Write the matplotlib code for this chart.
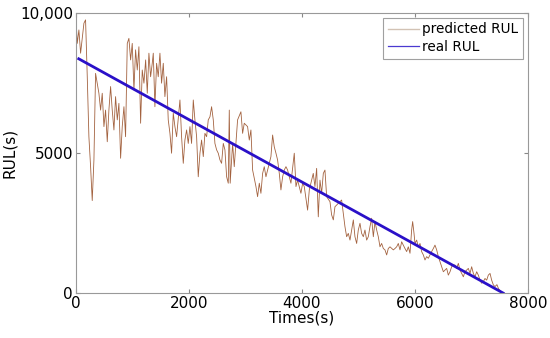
import matplotlib
matplotlib.use('Agg')
import matplotlib.pyplot as plt
from matplotlib.lines import Line2D

# predicted RUL (time in s, RUL in s)
pred_time = [0, 24, 53, 83, 142, 171, 201, 230, 260, 289, 319, 348, 378, 407,
             437, 466, 496, 525, 555, 584, 614, 643, 673, 702, 732, 761, 791,
             820, 850, 879, 909, 938, 968, 997, 1027, 1056, 1086, 1115, 1145,
             1174, 1204, 1234, 1263, 1292, 1322, 1351, 1369, 1398, 1428, 1457,
             1487, 1516, 1546, 1575, 1605, 1634, 1664, 1693, 1723, 1752, 1782,
             1841, 1870, 1900, 1929, 1959, 1988, 2018, 2047, 2077, 2106, 2136,
             2165, 2195, 2224, 2254, 2283, 2313, 2342, 2372, 2401, 2431, 2460,
             2490, 2519, 2549, 2578, 2608, 2637, 2667, 2696, 2714, 2730, 2773,
             2802, 2861, 2920, 2950, 2979, 3038, 3068, 3097, 3127, 3186, 3215,
             3245, 3274, 3304, 3333, 3363, 3392, 3451, 3481, 3510, 3540, 3569,
             3599, 3628, 3658, 3687, 3717, 3746, 3805, 3864, 3894, 3923, 3982,
             4012, 4041, 4100, 4130, 4159, 4200, 4230, 4260, 4289, 4319, 4348,
             4378, 4407, 4437, 4496, 4525, 4555, 4584, 4643, 4702, 4732, 4761,
             4791, 4820, 4850, 4879, 4909, 4938, 4968, 4997, 5027, 5056, 5086,
             5115, 5145, 5174, 5204, 5233, 5263, 5292, 5322, 5351, 5381, 5410,
             5440, 5469, 5499, 5528, 5558, 5617, 5646, 5676, 5705, 5735, 5764,
             5823, 5853, 5882, 5912, 5941, 5959, 5983, 6000, 6030, 6059, 6089,
             6118, 6148, 6177, 6207, 6236, 6295, 6325, 6354, 6384, 6413, 6472,
             6502, 6531, 6561, 6590, 6620, 6649, 6679, 6708, 6738, 6767, 6797,
             6826, 6856, 6885, 6915, 6944, 6974, 7003, 7033, 7062, 7092, 7121,
             7151, 7180, 7210, 7239, 7269, 7298, 7328, 7357, 7387, 7416, 7450,
             7480, 7510, 7540]
pred_rul = [9860, 8910, 9390, 8560, 9630, 9750, 7720, 5580, 4510, 3300, 4750,
            7840, 7490, 7130, 6530, 7130, 5940, 6530, 5400, 6530, 7370, 6530,
            5820, 7010, 6180, 6770, 4810, 5940, 6650, 5580, 8910, 9090, 8320,
            8910, 7250, 8680, 7960, 8790, 6060, 7960, 7490, 8320, 7130, 8560,
            7720, 8200, 8560, 6650, 8200, 7720, 8560, 7490, 8200, 7010, 7720,
            6180, 5700, 4990, 6420, 5940, 5580, 6890, 5580, 4630, 5460, 5820,
            5340, 5940, 5340, 6890, 6180, 5580, 4150, 4990, 5460, 4870, 5700,
            5580, 6180, 6290, 6650, 6180, 5340, 5110, 4990, 4750, 4630, 5340,
            5110, 4150, 3920, 6530, 3920, 5340, 4510, 6180, 6470, 5700, 6060,
            5940, 5460, 5820, 4390, 3800, 3440, 3920, 3560, 4270, 4510, 4150,
            4390, 4870, 5640, 5220, 4990, 4750, 4270, 3680, 4150, 4390, 4510,
            4390, 3920, 4990, 3800, 4030, 3560, 3920, 3800, 2960, 3680, 3920,
            4270, 3800, 4450, 2720, 4030, 3560, 4270, 4390, 3440, 3260, 2790,
            2610, 3080, 3200, 3320, 2850, 2370, 2010, 2130, 1890, 2250, 2610,
            2010, 1770, 2250, 2490, 2130, 2010, 2250, 1890, 2010, 2370, 2670,
            2010, 2550, 2250, 2010, 1650, 1770, 1590, 1540, 1360, 1590, 1650,
            1540, 1590, 1650, 1770, 1540, 1830, 1590, 1480, 1650, 1420, 2250,
            2550, 2130, 1770, 1890, 1650, 1770, 1480, 1360, 1180, 1300, 1240,
            1480, 1590, 1710, 1540, 1300, 940, 760, 820, 880, 640, 760, 940,
            1000, 1000, 880, 1060, 820, 700, 580, 760, 820, 880, 700, 940, 700,
            580, 760, 640, 460, 350, 410, 520, 460, 640, 700, 460, 290, 230,
            300, 150, 80, 0]

# real RUL: straight line
real_time = [50, 7560]
real_rul = [8360, 0]

plt.figure(figsize=(5.5, 3.38), dpi=100)
ax = plt.gca()
ax.set_position([0.138, 0.133, 0.822, 0.829])
ax.plot(pred_time, pred_rul, color='#a3623f', linewidth=0.6)
ax.plot(real_time, real_rul, color='#2a10c8', linewidth=2.0)
ax.set_xlim(0, 8000)
ax.set_ylim(0, 10000)
ax.set_xticks([0, 2000, 4000, 6000, 8000])
ax.set_yticks([0, 5000, 10000])
ax.set_yticklabels(['0', '5000', '10,000'])
ax.tick_params(direction='in', length=3, top=True, right=True,
               labelsize=11, color='#888888', pad=2)
for sp in ax.spines.values():
    sp.set_color('#999999')
    sp.set_linewidth(0.8)
plt.xlabel("Times(s)", fontsize=11, labelpad=0)
plt.ylabel("RUL(s)", fontsize=11, labelpad=2)
# legend samples are drawn thin in the original
handles = [Line2D([], [], color='#d2c2b4', linewidth=1.0),
           Line2D([], [], color='#4a3ad0', linewidth=0.9)]
leg = ax.legend(handles, ['predicted RUL', 'real RUL'], loc='upper right',
                fontsize=9.8, fancybox=False, borderaxespad=0.35,
                handlelength=2.3, handletextpad=0.25, borderpad=0.35,
                labelspacing=0.25)
leg.get_frame().set_edgecolor('#888888')
leg.get_frame().set_linewidth(0.8)
plt.savefig("out.png")
